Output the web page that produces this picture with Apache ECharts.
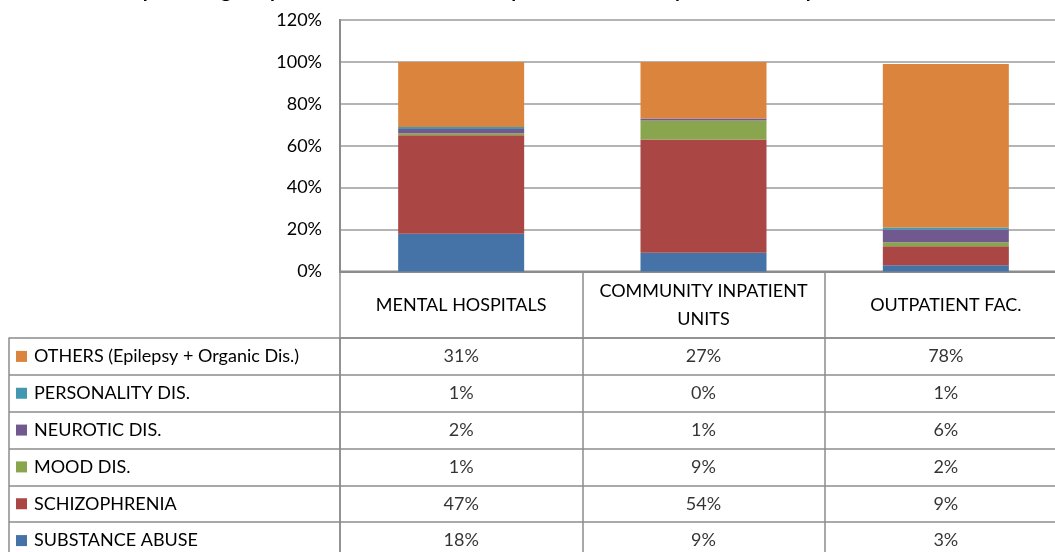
<!DOCTYPE html>
<html>
<head>
<meta charset="utf-8">
<script src="https://cdn.jsdelivr.net/npm/echarts@6/dist/echarts.min.js"></script>
<style>html,body{margin:0;padding:0;background:#fff;}#c{width:1055px;height:552px;}</style>
</head>
<body>
<div id="c"></div>
<script>
// ---- data ----
var titleText = 'The percentage of patients in mental health inpatient, community units and outpatient facilities';
var categories = ['MENTAL HOSPITALS', 'COMMUNITY INPATIENT\nUNITS', 'OUTPATIENT FAC.'];
var seriesNames = ['SUBSTANCE ABUSE', 'SCHIZOPHRENIA', 'MOOD DIS.', 'NEUROTIC DIS.', 'PERSONALITY DIS.', 'OTHERS (Epilepsy + Organic Dis.)'];
var substanceAbuse = [18, 9, 3];
var schizophrenia = [47, 54, 9];
var moodDis = [1, 9, 2];
var neuroticDis = [2, 1, 6];
var personalityDis = [1, 0, 1];
var others = [31, 27, 78];
var yTicks = [0, 20, 40, 60, 80, 100, 120];
var colors = ['#4572A7', '#AA4643', '#89A54E', '#71588F', '#4198AF', '#DB843D'];

var seriesValues = [substanceAbuse, schizophrenia, moodDis, neuroticDis, personalityDis, others];
var FONT = 'Lato';
var TXT = '#000';
var LINE = '#8c8c8c';

var rich = { t: { fontFamily: FONT, fontSize: 18, color: TXT, padding: [0, 0, 0, 7] } };
colors.forEach(function (c, i) {
  rich['s' + i] = { backgroundColor: c, width: 11, height: 11 };
});

var series = seriesNames.map(function (name, i) {
  return {
    name: name, type: 'bar', stack: 'total', xAxisIndex: 0, yAxisIndex: 0,
    barWidth: 126, itemStyle: { color: colors[i] }, data: seriesValues[i], silent: true
  };
});

var cellData = [];
seriesValues.forEach(function (vals, r) {
  vals.forEach(function (v, c) { cellData.push([c, r, v]); });
});
series.push({
  type: 'scatter', xAxisIndex: 1, yAxisIndex: 1, symbol: 'rect', symbolSize: 1,
  itemStyle: { color: 'rgba(0,0,0,0)' }, silent: true,
  label: {
    show: true, position: 'inside', fontFamily: FONT, fontSize: 18, color: TXT,
    formatter: function (p) { return p.value[2] + '%'; }
  },
  data: cellData
});

var chart = echarts.init(document.getElementById('c'));
chart.setOption({
  animation: false,
  backgroundColor: '#fff',
  graphic: [{
    type: 'text', x: 104, y: 1, silent: true,
    style: { text: titleText, fontFamily: FONT, fontSize: 20, fontWeight: 'bold', fill: '#000', verticalAlign: 'bottom' }
  }],
  grid: [
    { left: 340, width: 727, top: 20, height: 251.5, outerBoundsMode: 'none', show: true, borderColor: LINE, borderWidth: 2, backgroundColor: 'transparent' },
    { left: 340, width: 727, top: 338, height: 221, outerBoundsMode: 'none' }
  ],
  xAxis: [
    {
      type: 'category', gridIndex: 0, data: categories,
      axisLine: { lineStyle: { color: LINE, width: 2 } },
      axisTick: { show: true, interval: 0, length: 67, lineStyle: { color: LINE, width: 1.5 } },
      axisLabel: { interval: 0, margin: 34, verticalAlign: 'middle', fontFamily: FONT, fontSize: 18, color: TXT, lineHeight: 28 }
    },
    {
      type: 'category', gridIndex: 1, data: categories, position: 'top',
      axisLine: { show: true, lineStyle: { color: LINE, width: 1.5 } },
      axisTick: { show: false }, axisLabel: { show: false },
      splitLine: { show: true, interval: 0, lineStyle: { color: LINE, width: 1.5 } }
    }
  ],
  yAxis: [
    {
      type: 'value', gridIndex: 0, min: 0, max: 120, interval: 20,
      axisLine: { show: true, lineStyle: { color: LINE, width: 2 } },
      axisTick: { show: false },
      axisLabel: { margin: 18, fontFamily: FONT, fontSize: 18, color: TXT, formatter: function (v) { return v + '%'; } },
      splitLine: { lineStyle: { color: '#b4b4b4', width: 2 } }
    },
    {
      type: 'category', gridIndex: 1, data: seriesNames,
      axisLine: { show: true, lineStyle: { color: LINE, width: 1.5 } },
      axisTick: { show: true, interval: 0, length: 331, lineStyle: { color: LINE, width: 1.5 } },
      axisLabel: {
        interval: 0, align: 'left', margin: 324, rich: rich,
        formatter: function (v, i) { return '{s' + i + '|}{t|' + v + '}'; }
      },
      splitLine: { show: true, interval: 0, lineStyle: { color: LINE, width: 1.5 } }
    },
    {
      type: 'category', gridIndex: 1, data: seriesNames, position: 'left', offset: 331,
      axisLine: { show: true, lineStyle: { color: LINE, width: 1.5 } },
      axisTick: { show: false }, axisLabel: { show: false }, splitLine: { show: false }
    }
  ],
  series: series
});
</script>
</body>
</html>
